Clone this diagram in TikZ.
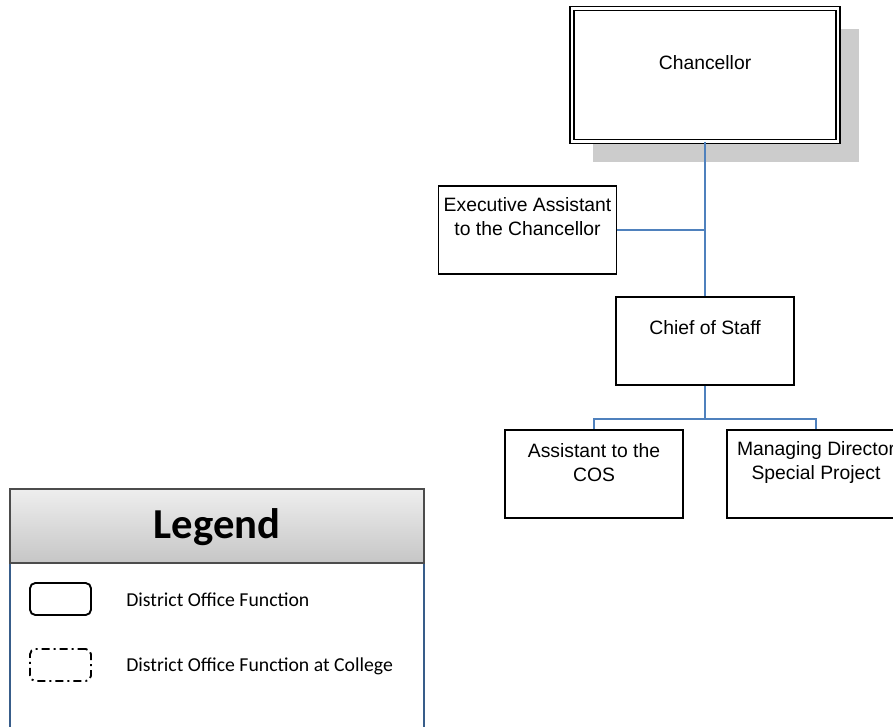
\documentclass[tikz,border=0pt]{standalone}
\usepackage{fontspec}
\usetikzlibrary{positioning,shadows}
\newfontfamily\orgfont{Liberation Sans}
\newfontfamily\legfont{Carlito}
\definecolor{linkblue}{RGB}{79,129,189}
\definecolor{shadowgray}{RGB}{204,204,204}
\definecolor{legblue}{RGB}{56,93,138}
\definecolor{legtop}{RGB}{238,238,238}
\definecolor{legbot}{RGB}{198,198,198}

\begin{document}
\begin{tikzpicture}[x=0.75pt,y=-0.75pt,
  box/.style={draw=black,line width=1.3pt,fill=white,minimum width=178*0.75pt,minimum height=88*0.75pt,inner sep=0pt},
  txt/.style={font=\orgfont\fontsize{14.5pt}{17.4pt}\selectfont,align=center},
  link/.style={draw=linkblue,line width=1.3pt},
  legicon/.style={draw=black,line width=1.4pt,rounded corners=4pt,minimum width=61*0.75pt,minimum height=32*0.75pt,inner sep=0pt},
  legtext/.style={font=\legfont\fontsize{14.8pt}{17pt}\selectfont,anchor=west,inner sep=0pt}]

\useasboundingbox (0,0) rectangle (893,727);
\clip (0,0) rectangle (893,727);

% org chart
\node[box,minimum width=266*0.75pt,minimum height=133*0.75pt,double=white,double distance=1.8pt,line width=1pt,
  drop shadow={shadow xshift=21*0.75pt,shadow yshift=-21*0.75pt,fill=shadowgray,opacity=1}] (chan) at (705,75) {};
\node[txt] (chant) at ([yshift=12.5*0.75pt]chan.center) {Chancellor};

\node[box] (exa) at (527.5,230) {};
\node[txt] (exat) at ([yshift=13.5*0.75pt]exa.center) {Executive Assistant\\to the Chancellor};

\node[box] (cos) at (705,341) {};
\node[txt] (cost) at ([yshift=13*0.75pt]cos.center) {Chief of Staff};

\node[box] (acos) at (594,474) {};
\node[txt] (acost) at ([yshift=11.5*0.75pt]acos.center) {Assistant to the\\COS};

\node[box] (mdsp) at (816,474) {};
\node[txt] (mdspt) at ([yshift=11.5*0.75pt]mdsp.center) {Managing Director\\Special Project};

\draw[link] (chan.south) -- (cos.north);
\draw[link] (exa.east) -- (exa.east -| chan.south);
\draw[link] (cos.south) -- ++(0,33) -| (acos.north);
\draw[link] (cos.south) -- ++(0,33) -| (mdsp.north);

% legend
\draw[legblue,line width=1.2pt,fill=white] (10,563) rectangle (424,740);
\shade[top color=legtop,bottom color=legbot] (10,489) rectangle (424,563);
\draw[black!70,line width=1.2pt] (10,489) rectangle (424,563);
\node[font=\legfont\bfseries\fontsize{32pt}{36pt}\selectfont] (legt) at (217,527) {Legend};

\node[legicon] (lsolid) at (60.5,599) {};
\node[legtext] (lsolidt) at (126,600) {District Office Function};
\node[legicon,dash pattern=on 6pt off 3pt on 1.5pt off 3pt] (ldash) at (60.5,665) {};
\node[legtext] (ldasht) at (126,666) {District Office Function at College};
\end{tikzpicture}
\end{document}
